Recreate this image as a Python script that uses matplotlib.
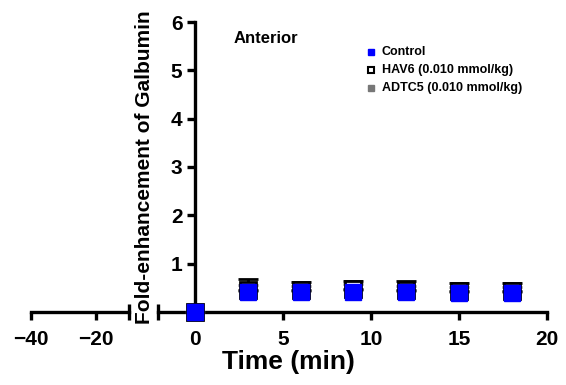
import numpy as np
import matplotlib.pyplot as plt

# Data
time = [0, 3, 6, 9, 12, 15, 18]
control = [0.0, 0.42, 0.42, 0.42, 0.42, 0.40, 0.40]
hav6 = [0.0, 0.46, 0.46, 0.47, 0.46, 0.44, 0.44]
hav6_err = [0.0, 0.22, 0.17, 0.18, 0.18, 0.17, 0.17]
adtc5 = [0.0, 0.44, 0.44, 0.45, 0.44, 0.42, 0.42]
adtc5_err = [0.0, 0.12, 0.10, 0.12, 0.10, 0.10, 0.10]

left_ticks = [-40, -20]
right_ticks = [0, 5, 10, 15, 20]
y_ticks = [1, 2, 3, 4, 5, 6]

plt.rcParams['font.family'] = ['Liberation Sans', 'DejaVu Sans']
plt.rcParams['font.weight'] = 'bold'
lw = 2.4
blue = '#0000ff'

fig = plt.figure(figsize=(5.66, 3.85), dpi=100)

# right (main) segment of broken x axis
ax = fig.add_axes([158 / 566, 73 / 385, 389 / 566, 290 / 385])
ax.set_xlim(-2.1, 20)
ax.set_ylim(0, 6)
ax.spines['left'].set_position(('data', 0))
ax.spines['top'].set_visible(False)
ax.spines['right'].set_visible(False)
for s in ['left', 'bottom']:
    ax.spines[s].set_linewidth(lw)
ax.set_xticks(right_ticks)
ax.set_yticks(y_ticks)
ax.tick_params(axis='y', width=lw, length=6, labelsize=15, pad=3)
ax.tick_params(axis='x', width=lw, length=6, labelsize=15, pad=7)
ax.set_xticks([-2.1], minor=True)
ax.tick_params(axis='x', which='minor', direction='inout', length=12, width=lw)
for lab in ax.get_xticklabels() + ax.get_yticklabels():
    lab.set_fontweight('bold')

ax.errorbar(time, adtc5, yerr=[np.zeros(len(time)), adtc5_err], fmt='s', ms=12,
            color='#777777', ecolor='#777777', capsize=7, capthick=2, elinewidth=2,
            clip_on=False, zorder=3)
ax.errorbar(time, hav6, yerr=[np.zeros(len(time)), hav6_err], fmt='s', ms=12,
            mfc='white', mec='black', mew=2, color='black', capsize=7, capthick=2.5,
            elinewidth=2, clip_on=False, zorder=4)
ax.plot(time, control, 's', ms=12, color=blue, clip_on=False, zorder=5)

ax.text(2.2, 5.65, 'Anterior', fontsize=12, fontweight='bold', va='center')

# legend drawn manually
leg_y = [5.37, 5.0, 4.63]
ax.plot(10.0, leg_y[0], 's', ms=5, color=blue)
ax.plot(10.0, leg_y[1], 's', ms=5, mfc='white', mec='black', mew=1.5)
ax.plot(10.0, leg_y[2], 's', ms=5, color='#777777')
ax.text(10.6, leg_y[0], 'Control', fontsize=9, fontweight='bold', va='center')
ax.text(10.6, leg_y[1], 'HAV6 (0.010 mmol/kg)', fontsize=9, fontweight='bold', va='center')
ax.text(10.6, leg_y[2], 'ADTC5 (0.010 mmol/kg)', fontsize=9, fontweight='bold', va='center')

# left segment of broken x axis
ax2 = fig.add_axes([31 / 566, 73 / 385, 98 / 566, 0.05])
ax2.set_xlim(-40, -10)
ax2.set_ylim(0, 1)
for s in ['left', 'top', 'right']:
    ax2.spines[s].set_visible(False)
ax2.spines['bottom'].set_linewidth(lw)
ax2.set_yticks([])
ax2.set_xticks(left_ticks)
ax2.tick_params(width=lw, length=6, labelsize=15, pad=7)
ax2.set_xticks([-10], minor=True)
ax2.tick_params(axis='x', which='minor', direction='inout', length=12, width=lw)
ax2.patch.set_visible(False)
for lab in ax2.get_xticklabels():
    lab.set_fontweight('bold')

fig.text(288 / 566, 1 - 362 / 385, 'Time (min)', fontsize=19, fontweight='bold',
         ha='center', va='center')
fig.text(145 / 566, 0.566, 'Fold-enhancement of Galbumin', rotation=90,
         fontsize=15, fontweight='bold', ha='center', va='center')

fig.savefig('out.png', dpi=100)
